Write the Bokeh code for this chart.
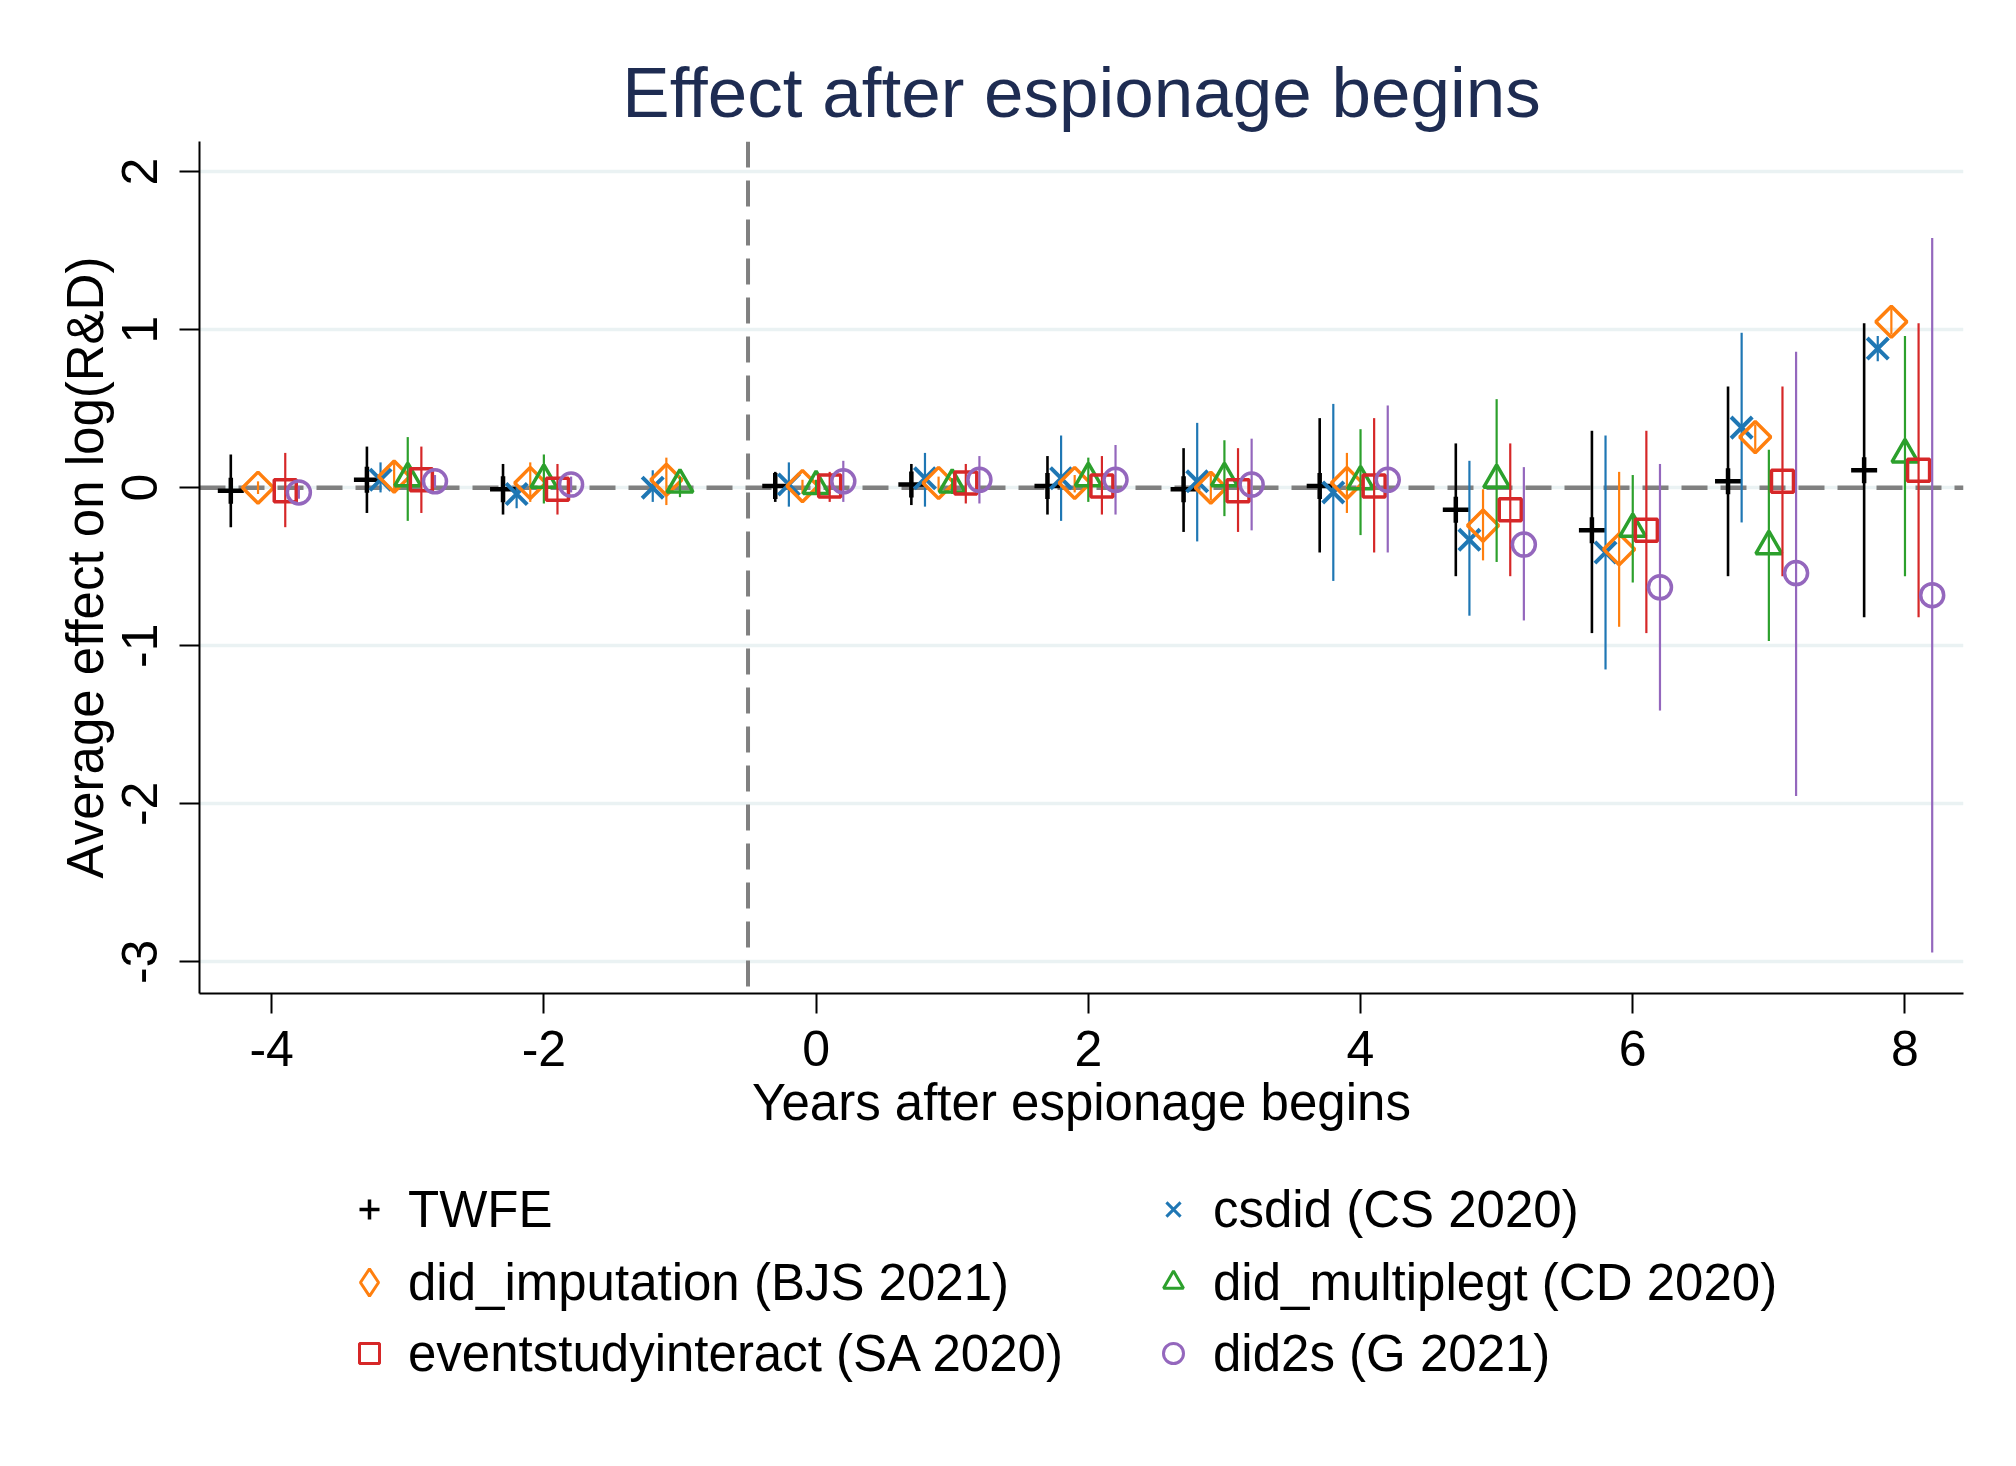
import numpy as np
from bokeh.plotting import figure
from bokeh.layouts import column
from bokeh.models import ColumnDataSource, Range1d, Span, Legend, LegendItem, FixedTicker
from bokeh.embed import file_html
from bokeh.resources import INLINE

# ---------------- data ----------------
events = [-4, -3, -2, -1, 0, 1, 2, 3, 4, 5, 6, 7, 8]

twfe_est = [-0.02, 0.05, -0.01, None, 0.01, 0.02, 0.01, -0.01, 0.01, -0.14, -0.27, 0.04, 0.11]
twfe_lo = [-0.25, -0.16, -0.17, None, -0.09, -0.11, -0.17, -0.28, -0.41, -0.56, -0.92, -0.56, -0.82]
twfe_hi = [0.21, 0.26, 0.15, None, 0.10, 0.15, 0.20, 0.25, 0.44, 0.28, 0.36, 0.64, 1.04]

csdid_est = [None, 0.05, -0.04, 0.00, 0.02, 0.06, 0.06, 0.04, -0.03, -0.33, -0.41, 0.38, 0.88]
csdid_lo = [None, -0.03, -0.13, -0.09, -0.12, -0.12, -0.21, -0.34, -0.59, -0.81, -1.15, -0.22, 0.80]
csdid_hi = [None, 0.16, 0.02, 0.11, 0.16, 0.22, 0.33, 0.41, 0.53, 0.17, 0.33, 0.98, 0.96]

imput_est = [0.00, 0.07, 0.03, 0.05, 0.01, 0.03, 0.03, 0.00, 0.03, -0.24, -0.39, 0.32, 1.05]
imput_lo = [-0.04, -0.03, -0.09, -0.11, -0.04, -0.02, -0.03, -0.08, -0.16, -0.46, -0.88, 0.24, 0.97]
imput_hi = [0.04, 0.16, 0.16, 0.19, 0.05, 0.07, 0.08, 0.08, 0.22, -0.01, 0.10, 0.40, 1.13]

multi_est = [None, 0.06, 0.05, 0.02, 0.01, 0.02, 0.06, 0.06, 0.04, 0.05, -0.26, -0.37, 0.21]
multi_lo = [None, -0.21, -0.10, -0.06, -0.04, -0.04, -0.09, -0.18, -0.30, -0.47, -0.60, -0.97, -0.56]
multi_hi = [None, 0.32, 0.21, 0.07, 0.05, 0.06, 0.19, 0.30, 0.37, 0.56, 0.08, 0.24, 0.96]

sa_est = [-0.02, 0.05, -0.01, None, 0.01, 0.03, 0.01, -0.02, 0.01, -0.14, -0.27, 0.04, 0.11]
sa_lo = [-0.25, -0.16, -0.17, None, -0.09, -0.10, -0.17, -0.28, -0.41, -0.56, -0.92, -0.56, -0.82]
sa_hi = [0.22, 0.26, 0.15, None, 0.10, 0.15, 0.20, 0.25, 0.44, 0.28, 0.36, 0.64, 1.04]

did2s_est = [-0.03, 0.04, 0.02, None, 0.04, 0.05, 0.05, 0.02, 0.05, -0.36, -0.63, -0.54, -0.68]
did2s_lo = [-0.07, 0.00, -0.03, None, -0.09, -0.10, -0.17, -0.27, -0.41, -0.84, -1.41, -1.95, -2.94]
did2s_hi = [0.01, 0.08, 0.07, None, 0.17, 0.20, 0.27, 0.31, 0.52, 0.13, 0.15, 0.86, 1.58]

labels = ["TWFE", "csdid (CS 2020)", "did_imputation (BJS 2021)",
          "did_multiplegt (CD 2020)", "eventstudyinteract (SA 2020)", "did2s (G 2021)"]
offsets = [-0.3, -0.2, -0.1, 0.0, 0.1, 0.2]

x_ticks = [-4, -2, 0, 2, 4, 6, 8]
y_ticks = [-3, -2, -1, 0, 1, 2]
ref_period = -0.5

# ---------------- style ----------------
FONT = "Liberation Sans"
styles = [
    dict(color="black", marker="cross", size=26, angle=0.0, lw=4.5, ci_w=2.6, key="cross", key_box=50),
    dict(color="#1f77b4", marker="x", size=30, angle=0.0, lw=4, ci_w=2.2, key="x", key_box=50),
    dict(color="#ff7f0e", marker="square", size=22, angle=np.pi / 4, lw=3.5, ci_w=2.2, key="diamond", key_box=68),
    dict(color="#2ca02c", marker="triangle", size=26, angle=0.0, lw=3.5, ci_w=2.2, key="triangle", key_box=50),
    dict(color="#d62728", marker="square", size=22, angle=0.0, lw=3.5, ci_w=2.2, key="square", key_box=50),
    dict(color="#9467bd", marker="circle", size=23, angle=0.0, lw=3.5, ci_w=2.2, key="circle", key_box=50),
]
all_est = [twfe_est, csdid_est, imput_est, multi_est, sa_est, did2s_est]
all_lo = [twfe_lo, csdid_lo, imput_lo, multi_lo, sa_lo, did2s_lo]
all_hi = [twfe_hi, csdid_hi, imput_hi, multi_hi, sa_hi, did2s_hi]

BORDER_L, BORDER_R = 199, 37
MAIN_H = 1170
p = figure(width=2000, height=MAIN_H,
           x_range=Range1d(-4.53, 8.43), y_range=Range1d(-3.2, 2.19),
           output_backend="svg", toolbar_location=None,
           min_border_left=BORDER_L, min_border_right=BORDER_R,
           min_border_top=141, min_border_bottom=MAIN_H - 993)
p.background_fill_color = "white"
p.border_fill_color = "white"
p.outline_line_color = None

p.title.text = "Effect after espionage begins"
p.title.align = "center"
p.title.text_font = FONT
p.title.text_font_size = "71px"
p.title.text_font_style = "normal"
p.title.text_color = "#1e2c52"
p.title.standoff = 19

# grid
p.xgrid.grid_line_color = None
p.ygrid.grid_line_color = "#eaf2f3"
p.ygrid.grid_line_width = 3.5
p.ygrid.ticker = FixedTicker(ticks=y_ticks)

# axes
for ax in (p.xaxis[0], p.yaxis[0]):
    ax.axis_line_color = "black"
    ax.axis_line_width = 2
    ax.major_tick_line_color = "black"
    ax.major_tick_line_width = 2
    ax.major_tick_out = 20
    ax.major_tick_in = 0
    ax.minor_tick_line_color = None
    ax.major_label_text_font = FONT
    ax.major_label_text_font_size = "50px"
    ax.major_label_text_color = "black"
    ax.axis_label_text_font = FONT
    ax.axis_label_text_font_size = "51px"
    ax.axis_label_text_font_style = "normal"
    ax.axis_label_text_color = "black"

p.xaxis.ticker = FixedTicker(ticks=x_ticks)
p.yaxis.ticker = FixedTicker(ticks=y_ticks)
p.xaxis.major_label_overrides = {t: str(t) for t in x_ticks}
p.yaxis.major_label_overrides = {t: str(t) for t in y_ticks}
p.xaxis.axis_label = "Years after espionage begins"
p.yaxis.axis_label = "Average effect on log(R&D)"
p.yaxis.major_label_orientation = "vertical"
p.xaxis.major_label_standoff = 17
p.xaxis.axis_label_standoff = 5
p.yaxis.major_label_standoff = 22
p.yaxis.axis_label_standoff = 6

# reference lines
p.add_layout(Span(location=0, dimension="width", line_color="#808080",
                  line_width=4.5, line_dash="26 13", level="underlay"))
p.add_layout(Span(location=ref_period, dimension="height", line_color="#808080",
                  line_width=4, line_dash="26 13", level="underlay"))

for lab, off, est, lo, hi, st in zip(labels, offsets, all_est, all_lo, all_hi, styles):
    xs, ys, los, his = [], [], [], []
    for e, v, l, h in zip(events, est, lo, hi):
        if v is None:
            continue
        xs.append(e + off)
        ys.append(v)
        los.append(l)
        his.append(h)
    src = ColumnDataSource(dict(x=xs, y=ys, lo=los, hi=his))
    p.segment(x0="x", y0="lo", x1="x", y1="hi", source=src,
              line_color=st["color"], line_width=st["ci_w"])
    p.scatter(x="x", y="y", source=src, marker=st["marker"], size=st["size"],
              angle=st["angle"], line_color=st["color"], line_width=st["lw"],
              fill_alpha=0)

# ---------------- legend strip (second figure, same styles) ----------------
LEG_H = 1450 - MAIN_H
pl = figure(width=2000, height=LEG_H, output_backend="svg", toolbar_location=None,
            x_axis_type=None, y_axis_type=None,
            x_range=Range1d(0, 1), y_range=Range1d(0, 1),
            min_border_left=BORDER_L, min_border_right=BORDER_R,
            min_border_top=0, min_border_bottom=0)
pl.outline_line_color = None
pl.background_fill_color = "white"
pl.border_fill_color = "white"

# key layout (screen pixels): two columns, three rows, filled column by column
KEY_CX = [369, 1173]      # key-symbol centres
KEY_TX = [408, 1213]      # label starts
KEY_CY = [39, 112, 183]   # row centres inside the strip
ROW_H = 62
order = [0, 2, 4, 1, 3, 5]

for slot, i in enumerate(order):
    col, row = divmod(slot, 3)
    st = styles[i]
    G = st["key_box"]
    H = max(G, ROW_H)
    # a single undefined (NaN) point: nothing drawn in the strip, only the legend key
    r = pl.scatter(x=[np.nan], y=[np.nan], marker=st["key"], size=10,
                   line_color=st["color"], line_width=3 if st["key"] != "cross" else 3.5,
                   fill_alpha=0)
    vx = int(round(KEY_CX[col] - G / 2 - BORDER_L))
    vy = int(round(LEG_H - KEY_CY[row] - H / 2))
    lg = Legend(items=[LegendItem(label=labels[i], renderers=[r])], location=(vx, vy))
    lg.label_text_font = FONT
    lg.label_text_font_size = "51px"
    lg.label_text_color = "black"
    lg.glyph_width = G
    lg.glyph_height = G
    lg.label_height = H
    lg.label_standoff = int(round(KEY_TX[col] - KEY_CX[col] - G / 2))
    lg.spacing = 0
    lg.padding = 0
    lg.margin = 0
    lg.border_line_color = None
    lg.background_fill_alpha = 0
    pl.add_layout(lg)

layout = column(p, pl, spacing=0)
open("out.html", "w").write(file_html(layout, INLINE))
